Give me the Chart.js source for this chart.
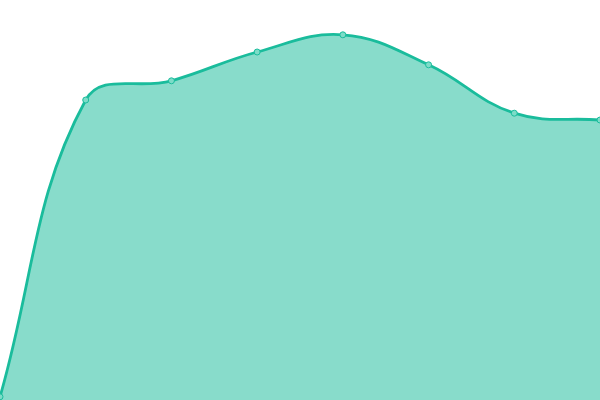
<!DOCTYPE html>
<html>
<head>
<meta charset="utf-8">
<script src="https://cdn.jsdelivr.net/npm/chart.js@4"></script>
<style>
  html, body { margin: 0; padding: 0; background: #fff; }
  #wrap { width: 600px; height: 400px; }
</style>
</head>
<body>
<div id="wrap"><canvas id="areaChart"></canvas></div>
<script>
const labels = ["Jan", "Feb", "Mar", "Apr", "May", "Jun", "Jul", "Aug"];
const values = [0.8, 75, 79.8, 87, 91.3, 83.8, 71.7, 70];

const ctx = document.getElementById("areaChart").getContext("2d");

new Chart(ctx, {
  type: 'line',
  data: {
    labels,
    datasets: [{
      data: values,
      borderColor: '#1abc9c',
      backgroundColor: 'rgba(26, 188, 156, 0.52)',
      borderWidth: 2.8,
      fill: 'origin',
      tension: 0.4,
      pointRadius: 3,
      pointBorderWidth: 1,
      pointBackgroundColor: '#7ddcc8',
      pointBorderColor: '#1abc9c'
    }]
  },
  options: {
    responsive: true,
    maintainAspectRatio: false,
    animation: false,
    layout: { padding: 0, autoPadding: false },
    plugins: { legend: { display: false }, tooltip: { enabled: false } },
    scales: {
      x: { display: false, offset: false },
      y: { display: false, min: 0, max: 100 }
    }
  }
});
</script>
</body>
</html>
